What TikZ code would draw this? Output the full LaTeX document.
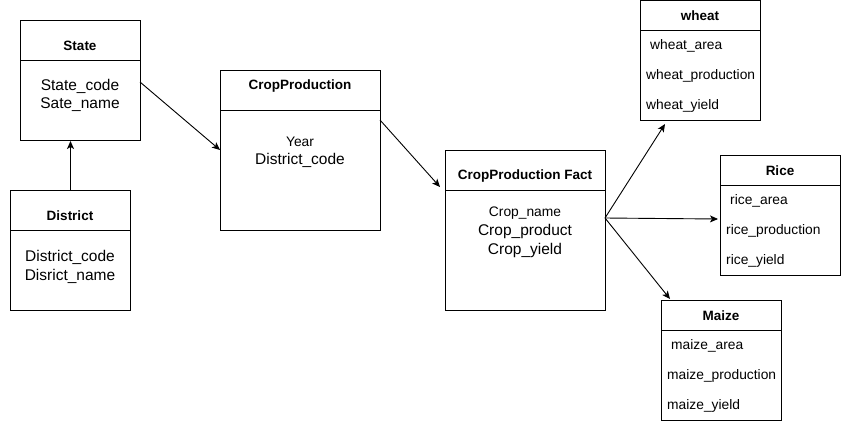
\documentclass[tikz,border=0pt]{standalone}
\usepackage{fontspec}
\setmainfont{Liberation Sans}
\usetikzlibrary{arrows.meta, positioning, calc}

\begin{document}
\begin{tikzpicture}[x=1pt, y=-1pt]
    \tikzstyle{tbox}=[rectangle, draw, line width=1pt, minimum width=120pt,
                      minimum height=120pt, inner sep=0pt, anchor=north west]
    \tikzstyle{head}=[font=\fontsize{13.5}{16}\selectfont\bfseries, inner sep=0pt]
    \tikzstyle{fbig}=[font=\fontsize{15.5}{18}\selectfont, inner sep=0pt]
    \tikzstyle{fsmall}=[font=\fontsize{13.8}{16}\selectfont, inner sep=0pt]
    \tikzstyle{arr}=[-{Stealth[length=8pt, width=7pt, inset=2pt]}, line width=0.9pt]

    \useasboundingbox (0,0) rectangle (841,421);

    % boxes
    \node[tbox] (state) at (20,20) {};
    \node[tbox] (dist)  at (10,190) {};
    \node[tbox, minimum width=160pt, minimum height=160pt] (crop) at (220,70) {};
    \node[tbox, minimum width=160pt, minimum height=160pt] (fact) at (445,150) {};
    \node[tbox] (wheat) at (640,0) {};
    \node[tbox] (rice)  at (720,155) {};
    \node[tbox] (maize) at (661,300) {};

    % header lines
    \draw[line width=1pt] ($(state.north west)+(0,40)$) -- ($(state.north east)+(0,40)$);
    \draw[line width=1pt] ($(dist.north west)+(0,40)$) -- ($(dist.north east)+(0,40)$);
    \draw[line width=1pt] ($(crop.north west)+(0,40)$) -- ($(crop.north east)+(0,40)$);
    \draw[line width=1pt] ($(fact.north west)+(0,40)$) -- ($(fact.north east)+(0,40)$);
    \draw[line width=1pt] ($(wheat.north west)+(0,30)$) -- ($(wheat.north east)+(0,30)$);
    \draw[line width=1pt] ($(rice.north west)+(0,30)$) -- ($(rice.north east)+(0,30)$);
    \draw[line width=1pt] ($(maize.north west)+(0,30)$) -- ($(maize.north east)+(0,30)$);

    % titles
    \node[head] (state-t) at (80,46)  {State};
    \node[head] (dist-t)  at (70,216) {District};
    \node[head] (crop-t)  at (300,86) {CropProduction};
    \node[head] (fact-t)  at (525,176) {CropProduction Fact};
    \node[head] (wheat-t) at (700,16) {wheat};
    \node[head] (rice-t)  at (780,171) {Rice};
    \node[head] (maize-t) at (721,316) {Maize};

    % fields
    \node[fbig] (state-a) at (80,86)  {State\_code};
    \node[fbig] (state-b) at (80,105) {Sate\_name};
    \node[fbig] (dist-a)  at (70,257) {District\_code};
    \node[fbig] (dist-b)  at (70,276) {Disrict\_name};
    \node[fsmall] (crop-a) at (300,142) {Year};
    \node[fbig]   (crop-b) at (300,160) {District\_code};
    \node[fsmall] (fact-a) at (525,213) {Crop\_name};
    \node[fbig]   (fact-b) at (525,231) {Crop\_product};
    \node[fbig]   (fact-c) at (525,250) {Crop\_yield};

    \node[fsmall, anchor=west] (wheat-a) at (650,46)  {wheat\_area};
    \node[fsmall, anchor=west] (wheat-b) at (646,76)  {wheat\_production};
    \node[fsmall, anchor=west] (wheat-c) at (646,106) {wheat\_yield};
    \node[fsmall, anchor=west] (rice-a)  at (730,201) {rice\_area};
    \node[fsmall, anchor=west] (rice-b)  at (726,231) {rice\_production};
    \node[fsmall, anchor=west] (rice-c)  at (726,261) {rice\_yield};
    \node[fsmall, anchor=west] (maize-a) at (671,346) {maize\_area};
    \node[fsmall, anchor=west] (maize-b) at (667,376) {maize\_production};
    \node[fsmall, anchor=west] (maize-c) at (667,406) {maize\_yield};

    % connector ends
    \coordinate (state-in)  at (dist.north |- state.south);
    \coordinate (state-out) at (140,82);
    \coordinate (crop-in)   at (220,150);
    \coordinate (crop-out)  at (380,120);
    \coordinate (fact-in)   at (440,187);
    \coordinate (fact-out)  at (605,218);
    \coordinate (wheat-in)  at (665,124);
    \coordinate (rice-in)   at (718,219);
    \coordinate (maize-in)  at (670,299);

    \draw[arr] (dist.north) -- (state-in);
    \draw[arr] (state-out) -- (crop-in);
    \draw[arr] (crop-out) -- (fact-in);
    \draw[arr] (fact-out) -- (wheat-in);
    \draw[arr] (fact-out) -- (rice-in);
    \draw[arr] (fact-out) -- (maize-in);
\end{tikzpicture}
\end{document}
